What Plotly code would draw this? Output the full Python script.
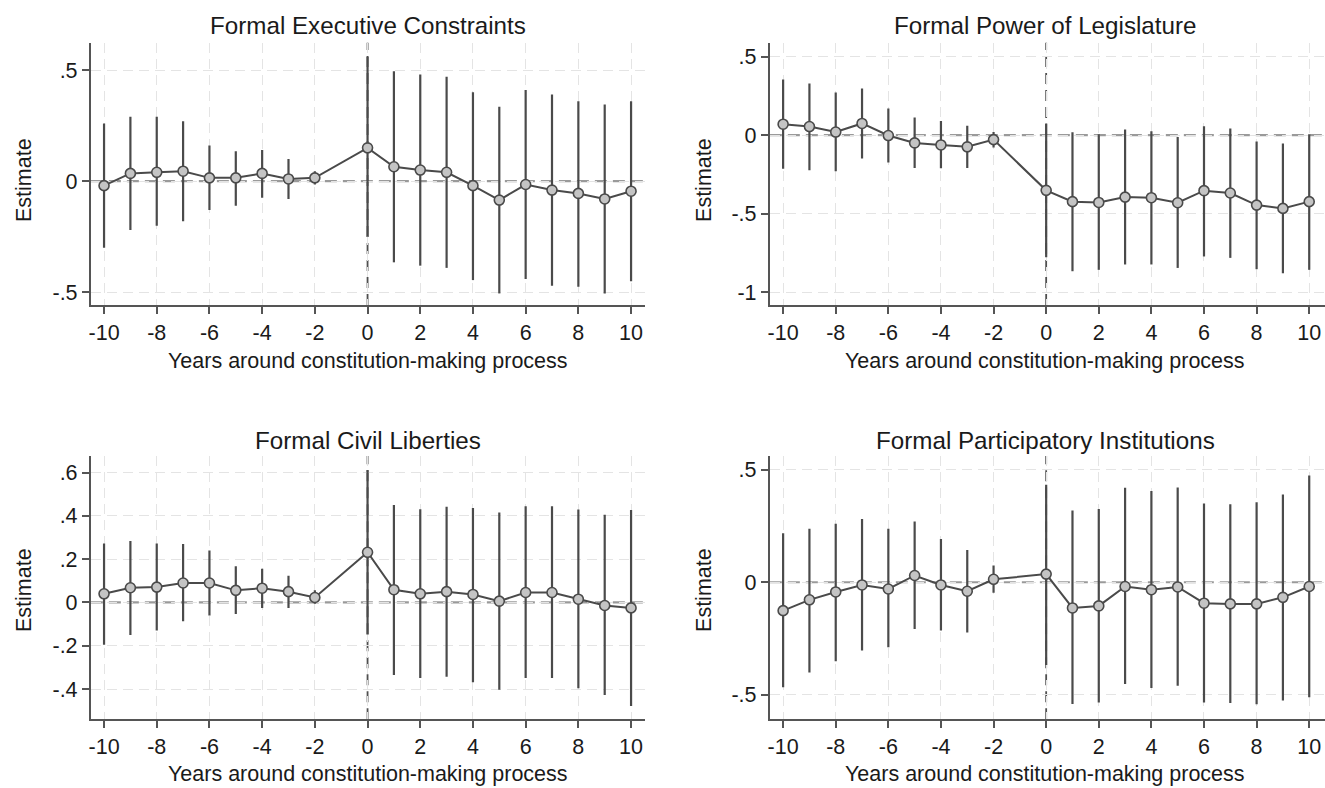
import plotly.graph_objects as go

years = [-10, -9, -8, -7, -6, -5, -4, -3, -2, 0, 1, 2, 3, 4, 5, 6, 7, 8, 9, 10]
x_ticks = [-10, -8, -6, -4, -2, 0, 2, 4, 6, 8, 10]

titles = ["Formal Executive Constraints", "Formal Power of Legislature",
          "Formal Civil Liberties", "Formal Participatory Institutions"]

# Panel 1: Formal Executive Constraints
exec_est = [-0.02, 0.035, 0.04, 0.045, 0.015, 0.015, 0.035, 0.01, 0.015, 0.15,
            0.065, 0.05, 0.04, -0.02, -0.085, -0.015, -0.04, -0.055, -0.08, -0.045]
exec_lo = [-0.30, -0.22, -0.20, -0.18, -0.13, -0.11, -0.075, -0.08, -0.015, -0.25,
           -0.365, -0.38, -0.39, -0.445, -0.505, -0.44, -0.47, -0.475, -0.505, -0.45]
exec_hi = [0.26, 0.29, 0.29, 0.27, 0.16, 0.135, 0.14, 0.10, 0.045, 0.56,
           0.495, 0.48, 0.47, 0.40, 0.335, 0.41, 0.39, 0.36, 0.345, 0.36]

# Panel 2: Formal Power of Legislature
leg_est = [0.07, 0.055, 0.02, 0.075, -0.002, -0.049, -0.062, -0.074, -0.028, -0.351,
           -0.423, -0.428, -0.394, -0.398, -0.43, -0.353, -0.368, -0.445, -0.466, -0.423]
leg_lo = [-0.213, -0.223, -0.23, -0.149, -0.174, -0.209, -0.211, -0.209, -0.079, -0.777,
          -0.866, -0.857, -0.823, -0.823, -0.845, -0.772, -0.781, -0.853, -0.879, -0.857]
leg_hi = [0.355, 0.33, 0.272, 0.298, 0.17, 0.113, 0.091, 0.06, 0.021, 0.074,
          0.019, 0.006, 0.036, 0.026, -0.011, 0.057, 0.043, -0.04, -0.053, 0.006]

# Panel 3: Formal Civil Liberties
civ_est = [0.04, 0.068, 0.071, 0.09, 0.09, 0.056, 0.066, 0.05, 0.023, 0.232,
           0.059, 0.04, 0.05, 0.037, 0.006, 0.046, 0.046, 0.015, -0.014, -0.025]
civ_lo = [-0.195, -0.15, -0.13, -0.087, -0.06, -0.053, -0.025, -0.025, -0.006, -0.148,
          -0.335, -0.349, -0.343, -0.369, -0.403, -0.349, -0.349, -0.396, -0.428, -0.479]
civ_hi = [0.272, 0.284, 0.272, 0.27, 0.24, 0.167, 0.156, 0.124, 0.056, 0.612,
          0.45, 0.431, 0.442, 0.437, 0.416, 0.445, 0.445, 0.43, 0.406, 0.427]

# Panel 4: Formal Participatory Institutions
par_est = [-0.126, -0.078, -0.043, -0.012, -0.03, 0.03, -0.012, -0.04, 0.013, 0.036,
           -0.114, -0.105, -0.019, -0.033, -0.021, -0.093, -0.096, -0.096, -0.067, -0.019]
par_lo = [-0.466, -0.40, -0.351, -0.303, -0.288, -0.207, -0.214, -0.223, -0.047, -0.367,
          -0.54, -0.533, -0.451, -0.469, -0.459, -0.533, -0.536, -0.541, -0.525, -0.51]
par_hi = [0.217, 0.237, 0.259, 0.281, 0.237, 0.269, 0.192, 0.143, 0.074, 0.433,
          0.318, 0.325, 0.419, 0.405, 0.42, 0.349, 0.346, 0.355, 0.389, 0.473]

y_ticks_vals = [[-0.5, 0, 0.5], [-1, -0.5, 0, 0.5],
                [-0.4, -0.2, 0, 0.2, 0.4, 0.6], [-0.5, 0, 0.5]]
y_ticks_text = [["-.5", "0", ".5"], ["-1", "-.5", "0", ".5"],
                ["-.4", "-.2", "0", ".2", ".4", ".6"], ["-.5", "0", ".5"]]
y_ranges = [[-0.557, 0.623], [-1.081, 0.589], [-0.54, 0.677], [-0.608, 0.56]]
x_ranges = [[-10.50, 10.53], [-10.505, 10.6], [-10.50, 10.53], [-10.505, 10.6]]

panels = [(exec_est, exec_lo, exec_hi), (leg_est, leg_lo, leg_hi),
          (civ_est, civ_lo, civ_hi), (par_est, par_lo, par_hi)]

W, H = 1325, 788
def px(x):
    return x / W
def py(y):
    return 1 - y / H

x_doms = [[px(89), px(644)], [px(769), 1.0], [px(89), px(644)], [px(769), 1.0]]
y_doms = [[py(305), py(42.7)], [py(305), py(42.7)], [py(719.3), py(456)], [py(719.3), py(456)]]

FONT = "Liberation Sans, Arial, sans-serif"
TXT = "#1a1a1a"
DARK = "#4a4a4a"
TICK_SIZE = 21.5
TITLE_SIZE = 24.2
AX_TITLE_SIZE = 21.5

fig = go.Figure()
layout = dict(
    width=W, height=H, paper_bgcolor="white", plot_bgcolor="white",
    margin=dict(l=0, r=0, t=0, b=0), showlegend=False,
    font=dict(family=FONT, color=TXT, size=18),
)
shapes = []
annotations = []

for i, (est, lo, hi) in enumerate(panels):
    n = i + 1
    xa = "x" if n == 1 else f"x{n}"
    ya = "y" if n == 1 else f"y{n}"
    plus = [h - e for h, e in zip(hi, est)]
    minus = [e - l for e, l in zip(est, lo)]
    fig.add_trace(go.Scatter(
        x=years, y=est, xaxis=xa, yaxis=ya, mode="lines+markers",
        line=dict(color=DARK, width=2),
        marker=dict(symbol="circle", size=10, color="#c4c4c4",
                    line=dict(color=DARK, width=1.6)),
        error_y=dict(type="data", symmetric=False, array=plus, arrayminus=minus,
                     width=0, thickness=2.2, color=DARK),
        hoverinfo="skip",
    ))
    xkey = "xaxis" if n == 1 else f"xaxis{n}"
    ykey = "yaxis" if n == 1 else f"yaxis{n}"
    layout[xkey] = dict(
        domain=x_doms[i], range=x_ranges[i], anchor=ya,
        tickmode="array", tickvals=x_ticks, ticktext=[str(t) for t in x_ticks],
        ticks="outside", ticklen=7, tickwidth=1.5, tickcolor="#555",
        showline=True, linecolor="#555", linewidth=2,
        showgrid=True, gridcolor="#e4e4e4", griddash="10px,6px", gridwidth=1.2,
        zeroline=False, tickfont=dict(size=TICK_SIZE, color=TXT, family=FONT),
    )
    layout[ykey] = dict(
        domain=y_doms[i], range=y_ranges[i], anchor=xa,
        tickmode="array", tickvals=y_ticks_vals[i], ticktext=y_ticks_text[i],
        ticks="outside", ticklen=7, tickwidth=1.5, tickcolor="#555",
        showline=True, linecolor="#555", linewidth=2,
        showgrid=True, gridcolor="#e4e4e4", griddash="10px,6px", gridwidth=1.2,
        zeroline=False, tickfont=dict(size=TICK_SIZE, color=TXT, family=FONT),
    )
    # zero reference line
    shapes.append(dict(type="line", xref=f"{xa} domain", yref=ya,
                       x0=0, x1=1, y0=0, y1=0, layer="below",
                       line=dict(color="#9a9a9a", width=2.2, dash="12px,6px")))
    # vertical line at year 0
    shapes.append(dict(type="line", xref=xa, yref=f"{ya} domain",
                       x0=0, x1=0, y0=0, y1=1, layer="below",
                       line=dict(color="#4f4f4f", width=1.8, dash="11px,6px")))

    cx = 366.5 if i % 2 == 0 else 1045
    top = 25 if i < 2 else 440
    xt = 361 if i < 2 else 774
    yt = 180 if i < 2 else 590
    ytx = 22 if i % 2 == 0 else 703
    annotations.append(dict(text=titles[i], x=px(cx), y=py(top), xref="paper", yref="paper",
                            showarrow=False, xanchor="center", yanchor="middle",
                            font=dict(size=TITLE_SIZE, family=FONT, color=TXT)))
    annotations.append(dict(text="Years around constitution-making process",
                            x=px(cx), y=py(xt), xref="paper", yref="paper",
                            showarrow=False, xanchor="center", yanchor="middle",
                            font=dict(size=AX_TITLE_SIZE, family=FONT, color=TXT)))
    annotations.append(dict(text="Estimate", x=px(ytx), y=py(yt), xref="paper", yref="paper",
                            showarrow=False, xanchor="center", yanchor="middle", textangle=-90,
                            font=dict(size=AX_TITLE_SIZE, family=FONT, color=TXT)))

layout["shapes"] = shapes
layout["annotations"] = annotations
fig.update_layout(**layout)
# Remove the default page margin so the 1325x788 figure fills the window exactly.
fig.write_html("out.html",
               config={"displayModeBar": False},
               post_script="document.body.style.margin='0';document.body.style.overflow='hidden';")
